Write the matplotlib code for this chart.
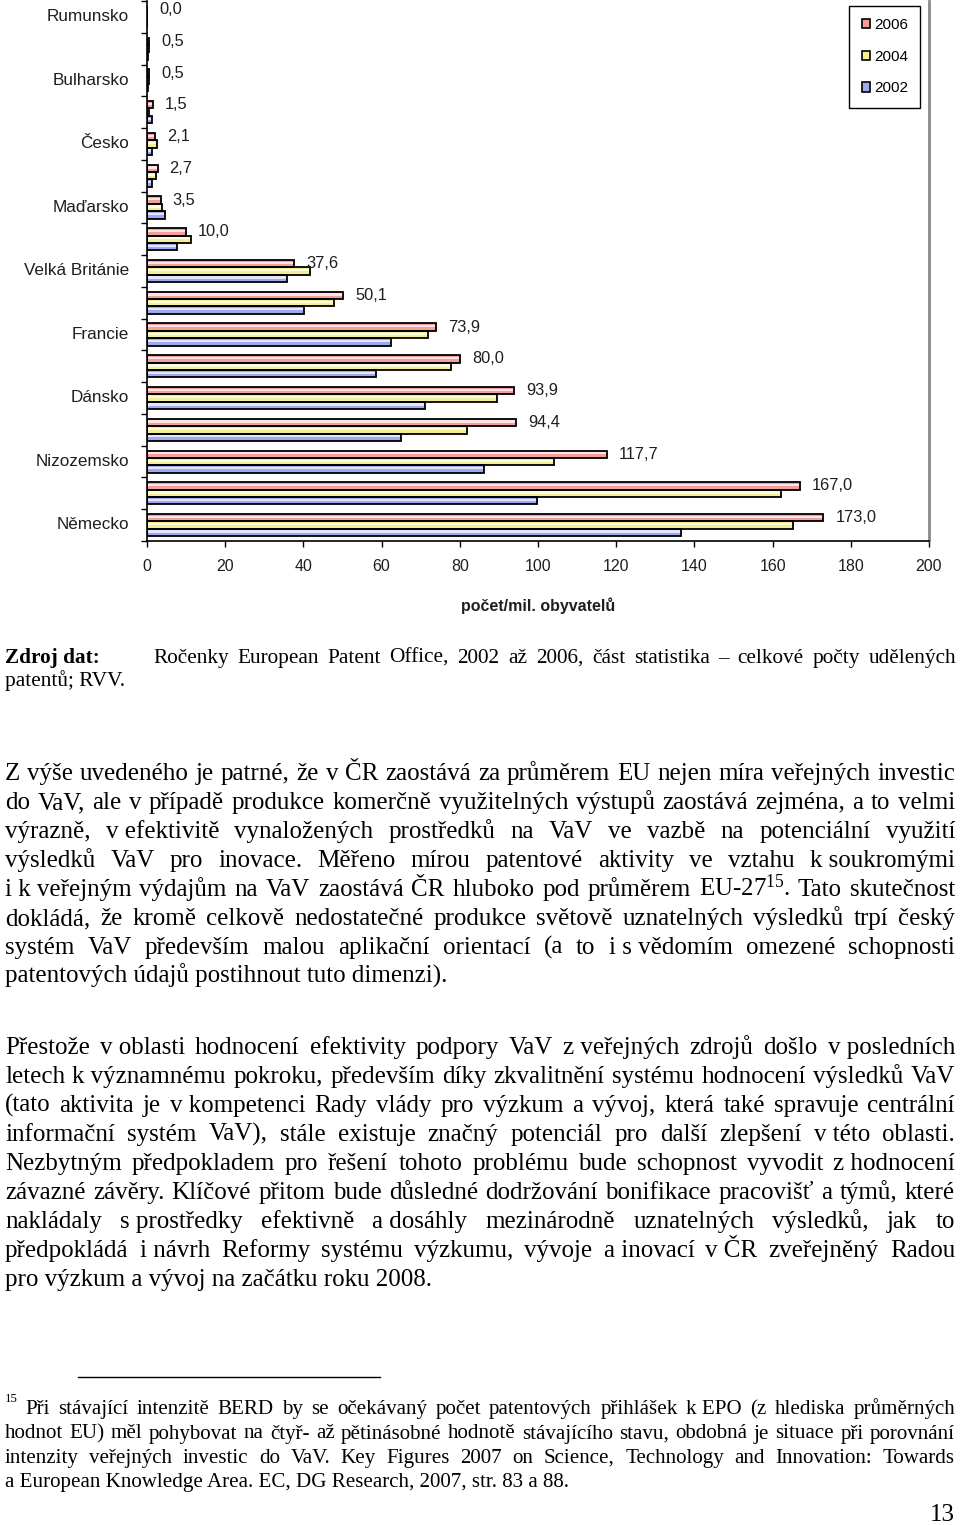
import matplotlib
matplotlib.use('Agg')
import matplotlib.pyplot as plt
import numpy as np

# ---------------- data ----------------
countries = ['Rumunsko', '', 'Bulharsko', '', 'Česko', '', 'Maďarsko', '',
             'Velká Británie', '', 'Francie', '', 'Dánsko', '', 'Nizozemsko', '',
             'Německo']
years = ['2006', '2004', '2002']
v2006 = [0.0, 0.5, 0.5, 1.5, 2.1, 2.7, 3.5, 10.0, 37.6, 50.1, 73.9, 80.0,
         93.9, 94.4, 117.7, 167.0, 173.0]
v2004 = [0.1, 0.5, 0.4, 0.4, 2.5, 2.4, 3.8, 11.3, 41.7, 47.8, 71.8, 77.8,
         89.4, 81.9, 104.2, 162.1, 165.1]
v2002 = [0.1, 0.3, 0.3, 1.2, 1.4, 1.2, 4.6, 7.7, 35.7, 40.2, 62.3, 58.5,
         71.2, 64.9, 86.1, 99.8, 136.7]
x_ticks = [0, 20, 40, 60, 80, 100, 120, 140, 160, 180, 200]
x_label = 'počet/mil. obyvatelů'

zdroj_head = 'Zdroj dat:'
zdroj_lines = ['Ročenky European Patent O' + 'ff' + 'ice, 2002 až 2006, část statistika – celkové počty udělených',
               'patentů; RVV.']
para1 = ['Z výše uvedeného je patrné, že v ČR zaostává za průměrem EU nejen míra veřejných investic',
         'do VaV, ale v případě produkce komerčně využitelných výstupů zaostává zejména, a to velmi',
         'výrazně, v\u00a0efektivitě vynaložených prostředků na VaV ve vazbě na potenciální využití',
         'výsledků VaV pro inovace. Měřeno mírou patentové aktivity ve vztahu k\u00a0soukromými',
         'i\u00a0k\u00a0veřejným výdajům na VaV zaostává ČR hluboko pod průměrem EU-27$^{15}$. Tato skutečnost',
         'dokládá, že kromě celkově nedostatečné produkce světově uznatelných výsledků trpí český',
         'systém VaV především malou aplikační orientací (a to i\u00a0s\u00a0vědomím omezené schopnosti',
         'patentových údajů postihnout tuto dimenzi).']
para2 = ['Přestože v\u00a0oblasti hodnocení efektivity podpory VaV z\u00a0veřejných zdrojů došlo v\u00a0posledních',
         'letech k\u00a0významnému pokroku, především díky zkvalitnění systému hodnocení výsledků VaV',
         '(tato aktivita je v\u00a0kompetenci Rady vlády pro výzkum a vývoj, která také spravuje centrální',
         'informační systém VaV), stále existuje značný potenciál pro další zlepšení v\u00a0této oblasti.',
         'Nezbytným předpokladem pro řešení tohoto problému bude schopnost vyvodit z\u00a0hodnocení',
         'závazné závěry. Klíčové přitom bude důsledné dodržování bonifikace pracovišť a týmů, které',
         'nakládaly s\u00a0prostředky efektivně a\u00a0dosáhly mezinárodně uznatelných výsledků, jak to',
         'předpokládá i\u00a0návrh Reformy systému výzkumu, vývoje a\u00a0inovací v\u00a0ČR zveřejněný Radou',
         'pro výzkum a vývoj na začátku roku 2008.']
foot_mark = '15'
foot = ['Při stávající intenzitě BERD by se očekávaný počet patentových přihlášek k\u00a0EPO (z hlediska průměrných',
        'hodnot EU) měl pohybovat na čtyř- až pětinásobné hodnotě stávajícího stavu, obdobná je situace při porovnání',
        'intenzity veřejných investic do VaV. Key Figures 2007 on Science, Technology and Innovation: Towards',
        'a\u00a0European Knowledge Area. EC, DG Research, 2007, str. 83 a 88.']
page_no = '13'

# ---------------- setup ----------------
plt.rcParams['mathtext.fontset'] = 'custom'
plt.rcParams['mathtext.rm'] = 'Liberation Serif'
plt.rcParams['mathtext.it'] = 'Liberation Serif:italic'
plt.rcParams['mathtext.bf'] = 'Liberation Serif:bold'

W, H = 960, 1525
fig = plt.figure(figsize=(W / 100, H / 100), dpi=100)
fig.patch.set_facecolor('white')

def fx(px):
    return px / W

def fy(py):
    return 1 - py / H

SANS = 'Liberation Sans'
SERIF = 'Liberation Serif'
TXT = '#1e1e1e'

def clean(s):
    # make sure no typographic ligature code points slip in
    return (s.replace('\ufb03', 'ffi').replace('\ufb01', 'fi')
             .replace('\ufb00', 'ff').replace('\ufb02', 'fl'))

# ---------------- chart ----------------
ax_top, ax_bot, ax_left, ax_right = 1, 541, 147, 929
ax = fig.add_axes([fx(ax_left), fy(ax_bot), (ax_right - ax_left) / W, (ax_bot - ax_top) / H])

n = len(countries)
y = np.arange(n)
h = 0.232
colors = ['#f59e9e', '#f3ef96', '#a1a9ee']
lights = ['#fde3e3', '#fdfce0', '#e2e6fc']
series = [v2006, v2004, v2002]
offsets = [-h, 0, h]
handles = []
for vals, off, c, lc, lab in zip(series, offsets, colors, lights, years):
    b = ax.barh(y + off, vals, height=h, color=c, edgecolor='none', label=lab, zorder=2)
    ax.barh(y + off - h * 0.12, vals, height=h * 0.3, color=lc, edgecolor='none', zorder=2.5)
    ax.barh(y + off, vals, height=h, facecolor='none', edgecolor='black', linewidth=1.3, zorder=3)
    handles.append(b)

for i, v in enumerate(v2006):
    ax.annotate(f'{v:.1f}'.replace('.', ','), xy=(v, i - h), xytext=(12, 0),
                textcoords='offset pixels', va='center', ha='left',
                fontsize=11.8, family=SANS, color=TXT)

ax.set_xlim(0, 200)
ax.set_ylim(n - 0.5, -0.5)
ax.set_xticks(x_ticks)
ax.set_xticklabels([str(t) for t in x_ticks], fontsize=11.5, family=SANS, color=TXT)
ax.tick_params(axis='x', direction='out', length=4, width=1, pad=9, colors='black', labelcolor=TXT)

ax.set_yticks(np.arange(-0.5, n, 1))
ax.set_yticklabels([])
ax.tick_params(axis='y', which='major', direction='out', length=4, width=1)
ax.set_yticks(y - 0.06, minor=True)
ax.set_yticklabels(countries, minor=True, fontsize=12.3, family=SANS, color=TXT)
ax.tick_params(axis='y', which='minor', length=0, pad=13)

ax.spines['top'].set_visible(False)
ax.spines['left'].set_linewidth(1.2)
ax.spines['bottom'].set_linewidth(1.2)
ax.spines['right'].set_color('#8a8a8a')
ax.spines['right'].set_linewidth(2)

ax.set_xlabel(x_label, fontsize=11.5, family=SANS, fontweight='bold', color=TXT, labelpad=17)

leg = ax.legend(handles=handles, loc='upper right',
                bbox_to_anchor=(fx(920), fy(6)), bbox_transform=fig.transFigure,
                frameon=True, fancybox=False, edgecolor='black', framealpha=1,
                prop={'family': SANS, 'size': 11}, handlelength=0.55, handleheight=0.55,
                handletextpad=0.25, labelspacing=1.15, borderpad=0.8, borderaxespad=0)
leg.get_frame().set_linewidth(1.0)
for p in leg.get_patches():
    p.set_edgecolor('black')
    p.set_linewidth(1.2)

# ---------------- page text ----------------
renderer = fig.canvas.get_renderer()

def text_w(s, **kw):
    t = fig.text(0, 0, s, **kw)
    w = t.get_window_extent(renderer=renderer).width
    t.remove()
    return w

def put_line(s, y_base, x0, x1, justify, **kw):
    s = clean(s)
    words = s.split(' ')
    if not justify or len(words) == 1:
        fig.text(fx(x0), fy(y_base), s, va='baseline', ha='left', **kw)
        return
    ws = [text_w(w, **kw) for w in words]
    gap = (x1 - x0 - sum(ws)) / (len(words) - 1)
    x = x0
    for w, wd in zip(words, ws):
        fig.text(fx(x), fy(y_base), w, va='baseline', ha='left', **kw)
        x += wd + gap

def fit_size(s, target, base=16, **kw):
    return base * target / text_w(clean(s), fontsize=base, **kw)

fs_body = fit_size(para1[-1], 443, family=SERIF)
fs_z = fit_size(zdroj_lines[1], 120, family=SERIF)
fs_fn = fit_size(foot[-1], 562, family=SERIF)

# source
fig.text(fx(5), fy(663), zdroj_head, va='baseline', ha='left', family=SERIF,
         fontweight='bold', fontsize=fs_z, color='black')
put_line(zdroj_lines[0], 663, 153, 956, True, family=SERIF, fontsize=fs_z, color='black')
put_line(zdroj_lines[1], 686, 5, 956, False, family=SERIF, fontsize=fs_z, color='black')

# paragraph 1
for k, line in enumerate(para1):
    put_line(line, 780 + 29 * k, 5, 955, k < len(para1) - 1, family=SERIF, fontsize=fs_body, color='black')

# paragraph 2
for k, line in enumerate(para2):
    put_line(line, 1054 + 29 * k, 5, 955, k < len(para2) - 1, family=SERIF, fontsize=fs_body, color='black')

# footnote separator
fig.add_artist(plt.Line2D([fx(78), fx(380)], [fy(1377), fy(1377)], color='black', linewidth=1.0))

# footnote
fig.text(fx(5), fy(1402), foot_mark, va='baseline', ha='left', family=SERIF,
         fontsize=fs_fn * 0.62, color='black')
for k, line in enumerate(foot):
    x0 = 25 if k == 0 else 5
    put_line(line, 1414 + 24.5 * k, x0, 955, k < len(foot) - 1, family=SERIF, fontsize=fs_fn, color='black')

# page number
fig.text(fx(955), fy(1521), page_no, va='baseline', ha='right', family=SERIF,
         fontsize=fs_body, color='black')

fig.savefig('out.png', dpi=100, facecolor='white')
